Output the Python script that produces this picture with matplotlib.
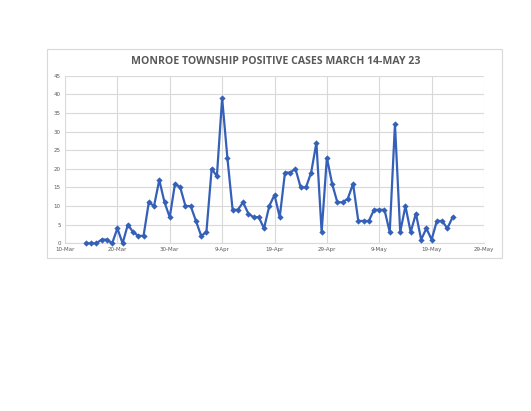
import matplotlib
matplotlib.use("Agg")
import matplotlib.pyplot as plt
from matplotlib.patches import Rectangle
import numpy as np
import datetime as dt

start_date = "2020-03-14"
cases = [0, 0, 0, 1, 1, 0, 4, 0, 5, 3, 2, 2, 11, 10, 17, 11, 7, 16,
         15, 10, 10, 6, 2, 3, 20, 18, 39, 23, 9, 9, 11, 8, 7, 7, 4, 10,
         13, 7, 19, 19, 20, 15, 15, 19, 27, 3, 23, 16,
         11, 11, 12, 16, 6, 6, 6, 9, 9, 9, 3, 32, 3, 10, 3, 8, 1, 4, 1, 6, 6, 4, 7]
tick_dates = ["2020-03-10", "2020-03-20", "2020-03-30", "2020-04-09", "2020-04-19",
              "2020-04-29", "2020-05-09", "2020-05-19", "2020-05-29"]
tick_labels = ["10-Mar", "20-Mar", "30-Mar", "9-Apr", "19-Apr", "29-Apr", "9-May", "19-May", "29-May"]
y_ticks = [0, 5, 10, 15, 20, 25, 30, 35, 40, 45]
title = "MONROE TOWNSHIP POSITIVE CASES MARCH 14-MAY 23"

W, H = 531, 411
fig = plt.figure(figsize=(W / 100, H / 100), dpi=100)
fig.patch.set_facecolor("white")

# outer chart box
fig.patches.append(Rectangle((47 / W, 1 - 258 / H), (502 - 47) / W, (258 - 49) / H,
                             transform=fig.transFigure, fill=False,
                             edgecolor="#d9d9d9", linewidth=0.8))

ax = fig.add_axes([65 / W, 1 - 243.3 / H, (484 - 65) / W, (243.3 - 75.7) / H])
d0 = np.datetime64(start_date)
dates = (d0 + np.arange(len(cases))).astype("datetime64[D]").astype(dt.datetime)
ax.plot(dates, cases, color="#3560b8", linewidth=1.6, marker="D", markersize=3.2,
        markeredgewidth=0, clip_on=False, zorder=3)

tks = [dt.datetime.fromisoformat(t) for t in tick_dates]
ax.set_xlim(tks[0], tks[-1])
ax.set_xticks(tks)
ax.set_xticklabels(tick_labels)
ax.set_ylim(0, 45)
ax.set_yticks(y_ticks)
ax.grid(True, color="#d9d9d9", linewidth=0.8)
ax.set_axisbelow(True)
for s in ["top", "right", "left"]:
    ax.spines[s].set_visible(False)
ax.spines["bottom"].set_color("#d9d9d9")
ax.tick_params(length=0, labelsize=4, colors="#595959", pad=3)

fig.text(276 / W, 1 - 61.6 / H, title, ha="center", va="center", fontsize=7.6,
         fontweight="bold", color="#595959", family="Open Sans")

fig.savefig("out.png", dpi=100)
